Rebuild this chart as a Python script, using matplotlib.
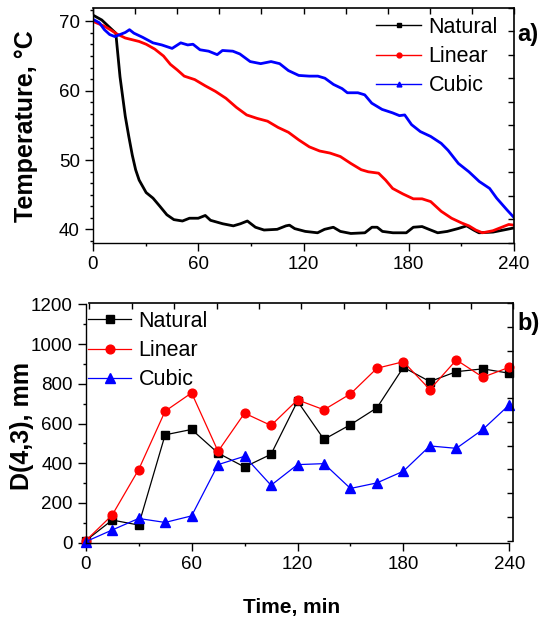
import matplotlib
matplotlib.use("Agg")
import matplotlib.pyplot as plt
from matplotlib.lines import Line2D
from matplotlib.ticker import MultipleLocator

plt.rcParams['font.family'] = ['Liberation Sans', 'DejaVu Sans']

# ---- panel a) temperature curves (read off the picture) ----
nat_t = [0, 5, 10, 13, 15.4, 16.4, 18.4, 20.4, 22.4, 24.3, 26.3, 30.3, 34.2, 38.2, 42.1, 46.1,
         51, 55, 60, 64, 67, 74, 80, 84, 88, 92.6, 97.5, 105, 110, 112, 115, 121, 128, 132,
         137, 141, 147, 155, 159, 162, 165, 171, 178.6, 182.6, 187.6, 191.5, 196.5, 202,
         208, 213, 217, 220, 228, 234, 240]
nat_T = [70.9, 70.2, 69.0, 68.3, 62.0, 60.1, 56.3, 53.4, 50.7, 48.6, 47.1, 45.3, 44.5, 43.3, 42.1, 41.4,
         41.2, 41.6, 41.6, 42.0, 41.3, 40.8, 40.5, 40.8, 41.2, 40.3, 39.9, 40.0, 40.5, 40.6, 40.1, 39.7,
         39.5, 40.0, 40.3, 39.7, 39.4, 39.5, 40.3, 40.3, 39.7, 39.5, 39.5, 40.3, 40.4, 40.0, 39.5, 39.7,
         40.1, 40.5, 39.9, 39.5, 39.6, 39.9, 40.2]

lin_t = [0, 6.5, 10.5, 13.5, 18.4, 26.3, 30.3, 35.2, 40.2, 44.1, 48, 52, 58, 64, 69.8, 75.8, 81.7,
         87.6, 93.6, 99.5, 105.5, 111.4, 117.3, 123.3, 129.2, 135.1, 141, 147, 152.9, 156.9, 162.8,
         166.8, 170.8, 176.7, 182.6, 187.6, 192.5, 198.5, 204.4, 210.3, 214.3, 218.2, 222, 228,
         234, 237, 240]
lin_T = [70.0, 69.3, 68.7, 68.2, 67.6, 67.1, 66.7, 66.0, 65.0, 63.8, 63.0, 62.1, 61.6, 60.7, 59.9, 58.9, 57.6,
         56.5, 56.0, 55.6, 54.7, 54.0, 52.9, 51.9, 51.3, 51.0, 50.5, 49.5, 48.6, 48.3, 48.1,
         47.1, 45.9, 45.1, 44.4, 44.4, 44.0, 42.6, 41.6, 40.9, 40.5, 39.9, 39.5, 39.8,
         40.4, 40.7, 40.6]

cub_t = [0, 3.6, 6.5, 9.5, 12.5, 15.4, 18.4, 20.8, 23.3, 28.3, 34.2, 39.2, 45.1, 50, 54, 57, 61,
         65.9, 70.8, 73.8, 79.7, 83.7, 89.6, 95.6, 101.5, 106.4, 111.4, 117.3, 123.3, 128.2, 132.2,
         137.1, 142, 145, 151, 154.9, 158.9, 164.8, 170.8, 174.7, 177.7, 181.6, 186.6, 192.5,
         198.5, 202.4, 208.3, 214.3, 220.2, 226.1, 230.1, 236, 240]
cub_T = [70.3, 69.8, 68.8, 68.1, 67.8, 68.1, 68.4, 68.8, 68.3, 67.7, 66.9, 66.6, 66.1, 66.9, 66.6, 66.7, 65.9,
         65.7, 65.2, 65.8, 65.7, 65.3, 64.2, 63.9, 64.2, 63.9, 62.9, 62.2, 62.1, 62.1, 61.8,
         60.9, 60.3, 59.7, 59.7, 59.4, 58.2, 57.3, 56.8, 56.4, 56.5, 55.1, 54.1, 53.4,
         52.4, 51.4, 49.5, 48.3, 46.9, 45.9, 44.5, 42.8, 41.7]

# ---- panel b) D(4,3) ----
time_b = [0, 15, 30, 45, 60, 75, 90, 105, 120, 135, 150, 165, 180, 195, 210, 225, 240]
d_nat = [10, 114, 89, 543, 570, 451, 381, 445, 712, 520, 594, 679, 883, 811, 861, 875, 853]
d_lin = [10, 139, 368, 662, 754, 460, 652, 590, 719, 669, 749, 878, 911, 771, 920, 833, 883]
d_cub = [5, 64, 122, 102, 135, 393, 435, 289, 393, 398, 273, 301, 360, 487, 475, 570, 694]

names = ["Natural", "Linear", "Cubic"]
colors = ["black", "red", "blue"]
markers = ["s", "o", "^"]

W, H = 546, 617
fig = plt.figure(figsize=(W / 100, H / 100), dpi=100)


def rect(x0, y0, x1, y1):
    return [x0 / W, 1 - y1 / H, (x1 - x0) / W, (y1 - y0) / H]


def style_main(ax):
    for s in ["top", "right"]:
        ax.spines[s].set_visible(False)
    for s in ["left", "bottom"]:
        ax.spines[s].set_linewidth(1.0)
    ax.tick_params(which="major", direction="out", length=5.5, width=1.0, labelsize=13.5, pad=4)
    ax.tick_params(which="minor", direction="out", length=2.5, width=1.0)
    ax.tick_params(top=False, right=False)


def frame(r):
    f = fig.add_axes(r, facecolor="none")
    f.set_xlim(0, 10)
    f.set_ylim(0, 10)
    for s in ["left", "bottom"]:
        f.spines[s].set_visible(False)
    for s in ["top", "right"]:
        f.spines[s].set_linewidth(1.2)
    f.set_xticks(range(11))
    f.set_yticks(range(11))
    f.tick_params(direction="in", length=4, width=1.0, top=True, right=True, bottom=False, left=False,
                  labeltop=False, labelright=False, labelbottom=False, labelleft=False)
    return f


# ---- top panel ----
ax1 = fig.add_axes(rect(93, 7.5, 514, 242.7))
ax1.plot(nat_t, nat_T, color="black", lw=2.0)
ax1.plot(lin_t, lin_T, color="red", lw=2.0)
ax1.plot(cub_t, cub_T, color="blue", lw=2.0)
ax1.set_xlim(0, 240)
ax1.set_ylim(38.07, 72)
ax1.set_xticks([0, 60, 120, 180, 240])
ax1.xaxis.set_minor_locator(MultipleLocator(30))
ax1.set_yticks([40, 50, 60, 70])
ax1.yaxis.set_minor_locator(MultipleLocator(10 / 6))
style_main(ax1)
frame(rect(93, 7.5, 514, 242.7))

h1 = [Line2D([], [], color=c, lw=1.0, marker=m, markersize=3.5) for c, m in zip(colors, ["s", "o", "^"])]
fig.legend(h1, names, loc="upper left", bbox_to_anchor=(376 / W, 1 - 17 / H), frameon=False,
           fontsize=15.5, handlelength=2.1, handletextpad=0.35, labelspacing=0.38, borderpad=0,
           borderaxespad=0)
fig.text(517 / W, 1 - 35 / H, "a)", fontsize=17, fontweight="bold", va="center", ha="left")
fig.text(26 / W, 1 - 126 / H, "Temperature, \u00b0C", fontsize=18, fontweight="bold",
         rotation=90, va="center", ha="center")

# ---- bottom panel ----
ax2 = fig.add_axes(rect(85.7, 304.3, 509.3, 542.7))
for y, c, m in zip([d_nat, d_lin, d_cub], colors, markers):
    ax2.plot(time_b, y, color=c, lw=0.9, marker=m, markersize=7 if m == "^" else 6.3,
             markeredgecolor=c, clip_on=False)
ax2.set_xlim(0, 240)
ax2.set_ylim(0, 1200)
ax2.set_xticks([0, 60, 120, 180, 240])
ax2.xaxis.set_minor_locator(MultipleLocator(30))
ax2.set_yticks(range(0, 1201, 200))
ax2.yaxis.set_minor_locator(MultipleLocator(100))
style_main(ax2)
frame(rect(89.3, 303.0, 513.3, 540.7))

h2 = [Line2D([], [], color=c, lw=0.9, marker=m, markersize=7 if m == "^" else 6.3) for c, m in zip(colors, markers)]
fig.legend(h2, names, loc="upper left", bbox_to_anchor=(88 / W, 1 - 311 / H), frameon=False,
           fontsize=15.5, handlelength=2.0, handletextpad=0.35, labelspacing=0.38, borderpad=0,
           borderaxespad=0)
fig.text(517 / W, 1 - 324 / H, "b)", fontsize=17, fontweight="bold", va="center", ha="left")
fig.text(22 / W, 1 - 426 / H, "D(4,3), mm", fontsize=18, fontweight="bold",
         rotation=90, va="center", ha="center")
fig.text(292 / W, 1 - 613 / H, "Time, min", fontsize=15, fontweight="bold", va="baseline", ha="center")

fig.savefig("out.png", dpi=100)
